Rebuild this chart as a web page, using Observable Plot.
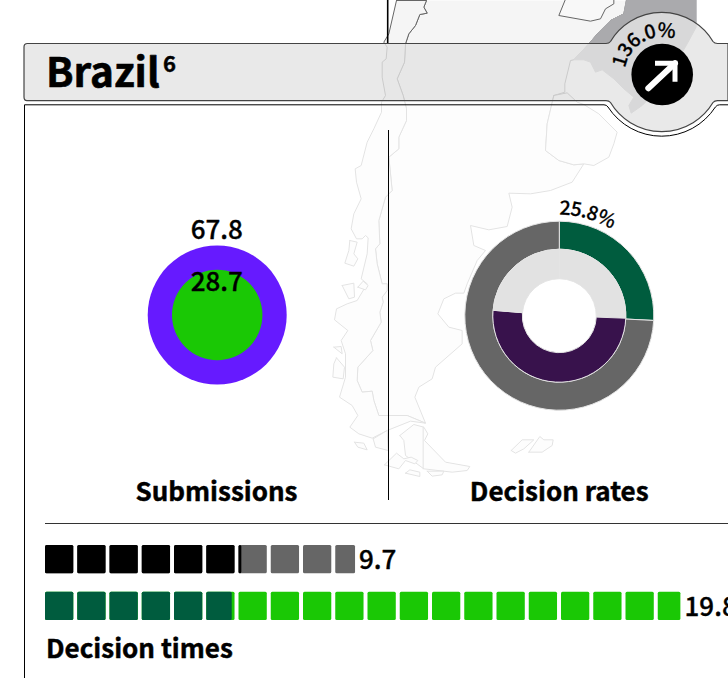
<!DOCTYPE html>
<html>
<head>
<meta charset="utf-8">
<script src="https://cdn.jsdelivr.net/npm/d3@7"></script>
<script src="https://cdn.jsdelivr.net/npm/@observablehq/plot@0.6"></script>
<style>
html,body{margin:0;padding:0;background:#fff}
svg{display:block}
</style>
</head>
<body>
<div id="chart"></div>
<script>
// ---------- values ----------
const countryName = "Brazil";
const footnote = "6";
const changeLabel = "136.0%";
const submissionValues = [67.8, 28.7];
const submissionColors = ["#661aff", "#1ac805"];
const submissionsTitle = "Submissions";
const outerRing = [25.8, 74.2];
const outerColors = ["#005c3e", "#666666"];
const innerRing = [25.6, 50.7, 23.7];
const innerColors = ["#e2e2e2", "#38124c", "#e2e2e2"];
const ratesLabel = "25.8%";
const ratesTitle = "Decision rates";
const reviewDays = [9.7, 6.1];
const reviewColors = ["#666666", "#000000"];
const decisionDays = [19.8, 5.9];
const decisionColors = ["#1ac805", "#005c3e"];
const timesTitle = "Decision times";

// ---------- background map outlines (map units) ----------
const chileWest = [[228,0],[205,100],[190,125],[200,140],[197,175],[185,185],[185,230],[195,285],[183,305],[183,335],[160,385],[140,425],[122,495],[104,505],[108,545],[122,595],[100,640],[92,685],[108,715],[125,715],[135,705],[143,712],[140,760],[122,835],[140,850],[110,900],[80,910],[48,925],[42,958],[82,990],[62,1020],[75,1060],[75,1130],[57,1190],[95,1215],[112,1245],[88,1280],[115,1300],[155,1313],[200,1290],[270,1262]];
const andesBorder = [[318,0],[310,20],[320,38],[298,42],[285,75],[265,100],[255,130],[252,185],[230,235],[248,285],[258,325],[258,360],[235,410],[235,445],[205,470],[215,570],[195,590],[175,660],[178,730],[165,745],[170,790],[185,850],[200,850],[200,870],[185,890],[188,905],[178,935],[182,965],[150,1020],[157,1050],[112,1100],[110,1140],[125,1175],[155,1172],[160,1200],[175,1245],[260,1245],[315,1268]];
const atlanticCoast = [[283,1190],[295,1160],[335,1135],[345,1100],[425,1030],[425,990],[385,980],[352,940],[370,895],[405,878],[430,878],[440,850],[470,780],[495,750],[460,735],[450,675],[505,688],[560,678],[575,620],[565,578],[630,580],[690,570],[755,545],[790,490],[760,493],[715,480],[675,450],[680,370],[700,285],[733,275],[733,250],[750,180],[760,178],[805,130],[835,95],[870,60],[910,40],[918,0]];
const uruguay = [[700,285],[740,277],[770,305],[790,312],[835,340],[890,395],[880,430],[865,470],[820,495],[790,490],[760,493],[715,480],[675,450],[680,370],[700,285]];
const paraguay = [[735,-4],[715,45],[810,62],[840,55],[855,25],[880,10],[880,-4]];
const brazilPart = [[918,-4],[910,40],[870,60],[835,95],[805,130],[760,178],[790,178],[810,185],[825,215],[845,208],[880,235],[910,265],[940,290],[925,315],[932,338],[965,315],[1030,250],[1100,130],[1127,80],[1127,-4]];
const islands = [
  [[88,720],[110,725],[100,760],[112,775],[100,797],[73,788],[85,750]],
  [[65,855],[100,848],[102,890],[85,895]],
  [[112,860],[128,842],[143,855],[135,868]],
  [[40,1040],[62,1038],[65,1060]],
  [[48,1072],[72,1100],[68,1135],[37,1130],[40,1090]],
  [[158,1315],[200,1290],[203,1350],[165,1340]],
  [[238,1305],[280,1272],[310,1280],[322,1300],[312,1320],[375,1385],[448,1398],[440,1410],[395,1415],[310,1405],[255,1365],[250,1320]],
  [[192,1393],[228,1358],[250,1375],[272,1370],[292,1380],[283,1390],[255,1380],[235,1405]],
  [[102,1325],[130,1328],[140,1348],[112,1340]],
  [[255,1418],[268,1408],[298,1415],[298,1428]],
  [[320,1412],[370,1412],[365,1423],[335,1427]],
  [[572,1350],[605,1318],[640,1318],[610,1345],[585,1358]],
  [[625,1355],[658,1308],[670,1318],[698,1318],[695,1335],[665,1355]]
];
const fuegoDivide = [[308,1280],[308,1405]];

// ---------- layout ----------
const W = 728, H = 678;
const cellStep = 32.25, cellLeft = 45, cellFill = 0.877;
const font = "'Noto Sans CJK SC','Noto Sans',sans-serif";
const px = v => (v - cellLeft) / cellStep;               // pixel position -> x scale (one unit = one day cell)
const mapX = d => px(320 + d[0] / 3), mapY = d => d[1] / 3;
const closed = r => [...r, r[0]];

const chile = closed([...chileWest, ...andesBorder.slice().reverse()]);
const argentina = [...andesBorder, ...atlanticCoast];

function ring(points, options) {
  return Plot.line(points, {x: mapX, y: mapY, curve: "linear", strokeLinejoin: "round", ...options});
}
function label(text, x, baseline, size, options = {}) {
  return Plot.text([text], {
    x: () => px(x), y: () => baseline, text: d => d,
    fontSize: size, fontFamily: font, lineAnchor: "bottom", dy: 0,
    fill: "#000", textAnchor: "middle", ...options
  });
}
const medium = {fontWeight: 500, stroke: "#000", strokeWidth: 0.35};
const heavy = {fontWeight: 700, stroke: "#000", strokeWidth: 0.45};
function cells(total, colors, y1, y2) {
  const rows = [];
  total.forEach((t, k) => {
    for (let i = 0; i < Math.ceil(t); i++) {
      rows.push({x1: i, x2: i + Math.min(1, t - i) * cellFill, c: colors[k]});
    }
  });
  return Plot.rect(rows, {x1: "x1", x2: "x2", y1: () => y1, y2: () => y2, fill: "c", rx: 1.5});
}
function svgPath(d, attrs) {
  return () => {
    const p = d3.create("svg:path").attr("d", d);
    for (const k in attrs) p.attr(k, attrs[k]);
    return p.node();
  };
}
function donut(shares, colors, r0, r1, cx, cy) {
  return (index, scales) => {
    const g = d3.create("svg:g").attr("transform", `translate(${scales.x(px(cx))},${scales.y(cy)})`);
    const pie = d3.pie().sort(null)(shares);
    const arc = d3.arc().innerRadius(r0).outerRadius(r1);
    g.selectAll("path").data(pie).join("path")
      .attr("d", arc).attr("fill", (d, i) => colors[i])
      .attr("stroke", "#e4e4e4").attr("stroke-width", 1);
    return g.node();
  };
}
function arcText(id, text, cx, cy, r, a0, a1, size) {
  return () => {
    const p = (a) => [cx + r * Math.sin(a * Math.PI / 180), cy - r * Math.cos(a * Math.PI / 180)];
    const g = d3.create("svg:g");
    const s = p(a0), e = p(a1);
    g.append("path").attr("id", id).attr("fill", "none")
      .attr("d", `M${s}A${r} ${r} 0 0 1 ${e}`);
    g.append("text").attr("font-family", font).attr("font-size", size).attr("font-weight", 500)
      .attr("letter-spacing", -0.6)
      .attr("fill", "#000").attr("stroke", "#000").attr("stroke-width", 0.25).attr("text-anchor", "start")
      .append("textPath").attr("href", "#" + id).attr("startOffset", 0).text(text);
    return g.node();
  };
}

// header and panel outlines with the badge bump
const bx = 661.7, by = 72.2, hr = 59.7, pr = 64;
const headerD = `M24,47Q24,43.5 27.5,43.5H606Q609,43.5 610.5,41.5A${hr},${hr} 0 0 1 713,41.5Q714.5,43.5 717.5,43.5H728V100.6H717.5Q714.5,100.6 713,102.5A${hr},${hr} 0 0 1 610.5,102.5Q609,100.6 606,100.6H27Q24,100.6 24,97Z`;
const panelFillD = `M24,100.6H606Q609,100.6 610.5,102.5A${hr},${hr} 0 0 0 713,102.5Q714.5,100.6 717.5,100.6H728V678H24Z`;
const panelLineD = `M24.5,678V104.8H604Q606.5,104.8 608,107A${pr},${pr} 0 0 0 715.4,107Q717,104.8 719.5,104.8H728`;

const chart = Plot.plot({
  width: W, height: H, margin: 0,
  x: {domain: [px(0), px(W)], range: [0, W], axis: null},
  y: {domain: [0, H], range: [0, H], axis: null},
  r: {domain: [0, submissionValues[0]], range: [0, 69.5]},
  style: {background: "#fff", fontFamily: font},
  marks: [
    // map
    ring(argentina, {fill: "#f5f5f5", stroke: "#666", strokeWidth: 1}),
    ring(chile, {fill: "#f5f5f5", stroke: "#666", strokeWidth: 1}),
    ring(closed(paraguay), {fill: "#f8f8f8", stroke: "#666", strokeWidth: 1}),
    ring(uruguay, {fill: "#f5f5f5", stroke: "#666", strokeWidth: 1}),
    ring(closed(brazilPart), {fill: "#aaaaad", stroke: "#aaaaad", strokeWidth: 1}),
    ...islands.map(r => ring(closed(r), {fill: "#f5f5f5", stroke: "#666", strokeWidth: 1})),
    ring(fuegoDivide, {stroke: "#666", strokeWidth: 1}),
    // veils
    svgPath(panelFillD, {fill: "#fff", "fill-opacity": 0.82}),
    svgPath(headerD, {fill: "#e3e3e3", "fill-opacity": 0.8, stroke: "#444", "stroke-width": 1.2}),
    svgPath(panelLineD, {fill: "none", stroke: "#000", "stroke-width": 1}),
    // badge
    Plot.dot([0], {x: () => px(661.7), y: () => 74, r: 30.8, fill: "#000"}),
    svgPath("M648.3,88.3L675,63.3", {stroke: "#fff", "stroke-width": 6, "stroke-linecap": "round", fill: "none"}),
    svgPath("M655,63.3H675V81.7", {stroke: "#fff", "stroke-width": 5, fill: "none"}),
    arcText("changePath", changeLabel, 661.7, 74, 37, -81, 40, 19.5),
    label(countryName, 45.5, 86, 40.5, {textAnchor: "start", fontWeight: 700, stroke: "#000", strokeWidth: 0.6}),
    label(footnote, 162.5, 71, 22, {textAnchor: "start", ...heavy}),
    // dividers
    svgPath("M387.7,0V43", {stroke: "#000", "stroke-width": 1.6, fill: "none"}),
    svgPath("M388.5,130V500", {stroke: "#000", "stroke-width": 1, fill: "none"}),
    svgPath("M45,523.5H728", {stroke: "#333", "stroke-width": 1, fill: "none"}),
    // submissions
    Plot.dot(submissionValues.map((v, i) => ({v, c: submissionColors[i]})), {
      x: () => px(216.7), y: () => 314.5, r: "v", fill: "c"
    }),
    label(String(submissionValues[0]), 216.3, 238, 26, medium),
    label(String(submissionValues[1]), 216.3, 290, 26, medium),
    label(submissionsTitle, 216, 500, 26, heavy),
    // decision rates
    donut(outerRing, outerColors, 66.5, 94.5, 559.3, 315.7),
    donut(innerRing, innerColors, 37, 66.5, 559.3, 315.7),
    arcText("ratesPath", ratesLabel, 559.3, 315.7, 101, 0, 60, 19.5),
    label(ratesTitle, 558.7, 500, 26, heavy),
    // waffle rows
    cells([reviewDays[0]], [reviewColors[0]], 545, 573.3),
    cells([reviewDays[1]], [reviewColors[1]], 545, 573.3),
    label(String(reviewDays[0]), 358.5, 568, 26, {textAnchor: "start", ...medium}),
    cells([decisionDays[0]], [decisionColors[0]], 591.7, 620),
    cells([decisionDays[1]], [decisionColors[1]], 591.7, 620),
    label(String(decisionDays[0]), 684, 615, 26, {textAnchor: "start", ...medium}),
    label(timesTitle, 45.5, 657, 26, {textAnchor: "start", ...heavy})
  ]
});
document.getElementById("chart").append(chart);
</script>
</body>
</html>
